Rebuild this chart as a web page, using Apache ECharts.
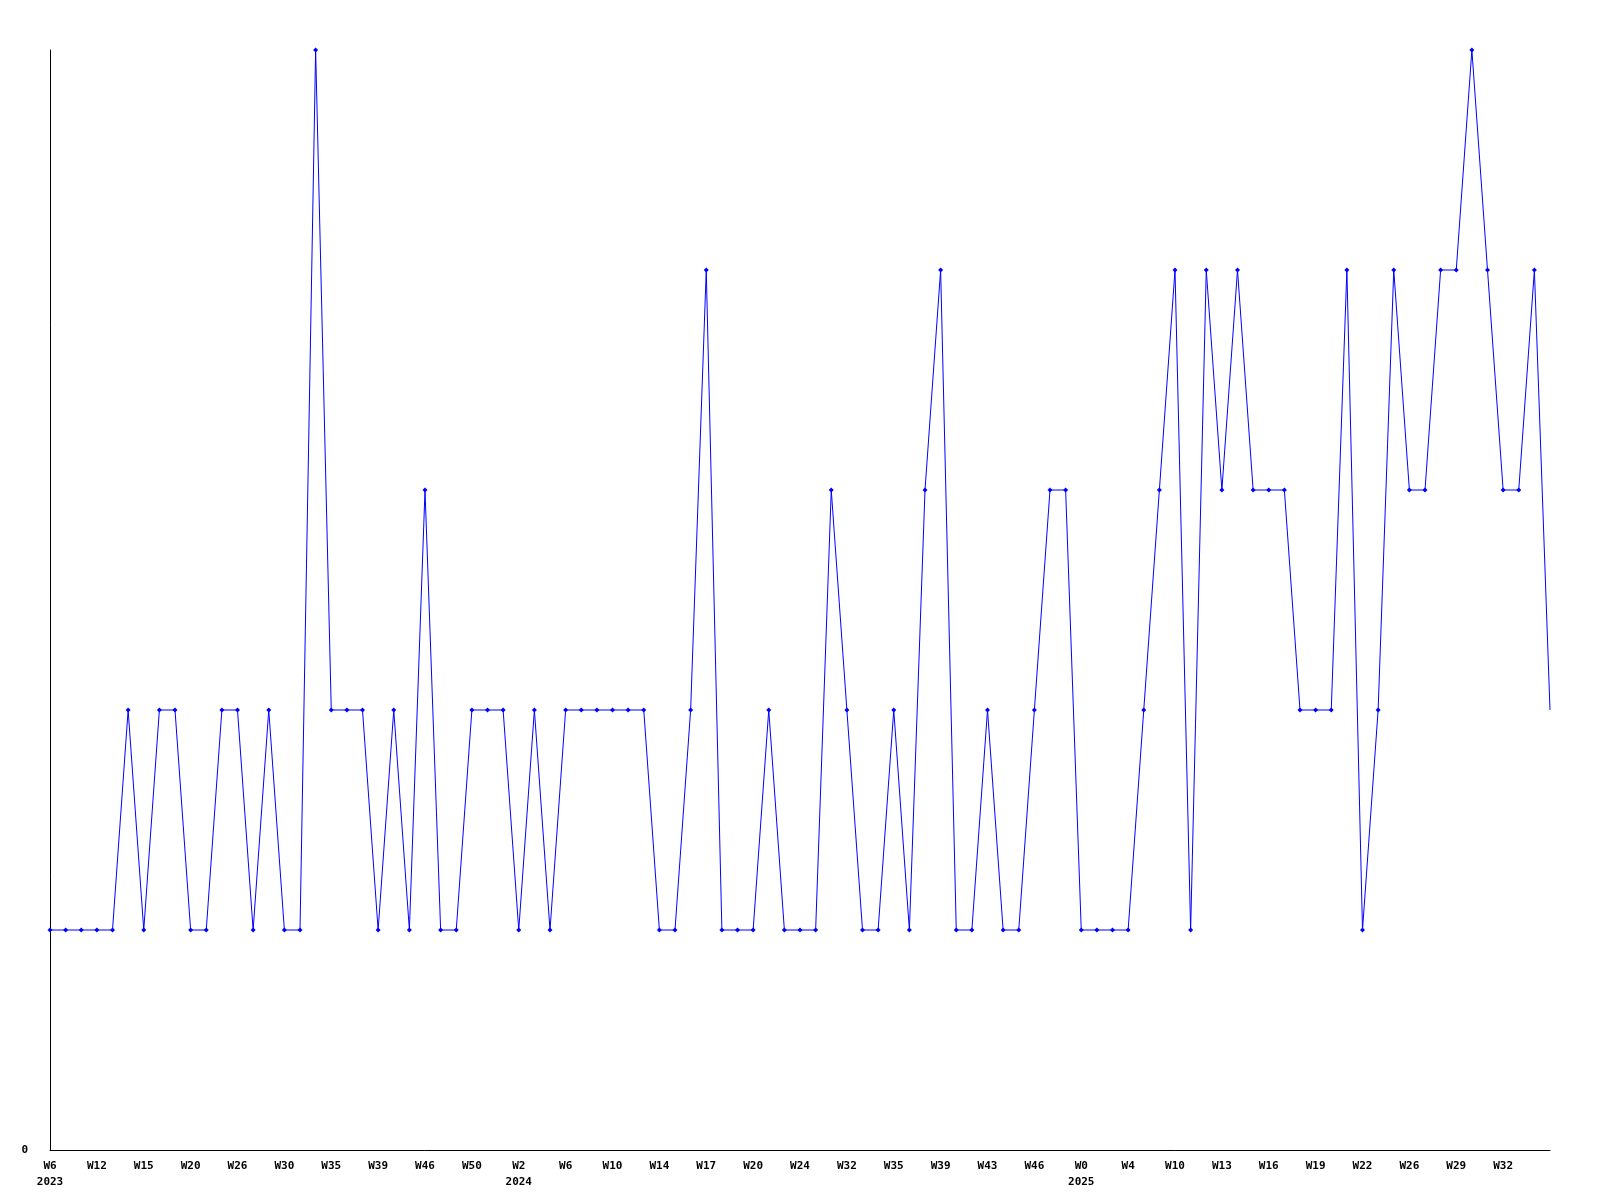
<!DOCTYPE html>
<html>
<head>
<meta charset="utf-8">
<script src="https://cdn.jsdelivr.net/npm/echarts@6/dist/echarts.min.js"></script>
<style>
html,body{margin:0;padding:0;background:#fff;}
#chart{width:1600px;height:1200px;}
</style>
</head>
<body>
<div id="chart"></div>
<script>
// Week categories (every third one is labelled on the axis)
const weeks = [
  'W6','W8','W10','W12','W13','W14','W15','W17','W18','W20',
  'W22','W24','W26','W27','W29','W30','W32','W34','W35','W36',
  'W37','W39','W41','W44','W46','W47','W49','W50','W51','W52',
  'W2','W3','W5','W6','W7','W8','W10','W11','W12','W14',
  'W15','W16','W17','W18','W19','W20','W21','W22','W24','W27',
  'W30','W32','W33','W34','W35','W36','W38','W39','W40','W42',
  'W43','W44','W45','W46','W47','W49','W0','W1','W3','W4',
  'W6','W8','W10','W11','W12','W13','W14','W15','W16','W17',
  'W18','W19','W20','W21','W22','W24','W25','W26','W27','W28',
  'W29','W30','W31','W32','W33','W34','W35'
];
const yearLabels = ['2023','2024','2025'];
const yearStartIndex = [0, 30, 66];

const values = [
  1,1,1,1,1,2,1,2,2,1,
  1,2,2,1,2,1,1,5,2,2,
  2,1,2,1,3,1,1,2,2,2,
  1,2,1,2,2,2,2,2,2,1,
  1,2,4,1,1,1,2,1,1,1,
  3,2,1,1,2,1,3,4,1,1,
  2,1,1,2,3,3,1,1,1,1,
  2,3,4,1,4,3,4,3,3,3,
  2,2,2,4,1,2,4,3,3,4,
  4,5,4,3,3,4,2
];
const yTickLabels = ['0'];

const chart = echarts.init(document.getElementById('chart'), null, {renderer:'canvas'});
const font = '"DejaVu Sans Mono", "Liberation Mono", monospace';
chart.setOption({
  animation: false,
  backgroundColor: '#ffffff',
  grid: {left: 50, right: 50, top: 50, bottom: 50, containLabel: false},
  xAxis: {
    type: 'category',
    data: weeks,
    boundaryGap: false,
    axisLine: {show: true, lineStyle: {color: '#000', width: 1}},
    axisTick: {show: false},
    splitLine: {show: false},
    axisLabel: {
      interval: 2,
      showMaxLabel: false,
      margin: 8,
      color: '#000',
      fontFamily: font,
      fontWeight: 'bold',
      fontSize: 11,
      lineHeight: 16,
      formatter: function (v, i) {
        if (i === weeks.length - 1) return '';
        const k = yearStartIndex.indexOf(i);
        return k >= 0 ? v + '\n' + yearLabels[k] : v;
      }
    }
  },
  yAxis: {
    type: 'value',
    min: 0,
    max: 5,
    interval: 1,
    axisLine: {show: true, lineStyle: {color: '#000', width: 1}},
    axisTick: {show: false},
    splitLine: {show: false},
    axisLabel: {
      margin: 22,
      color: '#000',
      fontFamily: font,
      fontWeight: 'bold',
      fontSize: 11,
      formatter: function (v) { return v === 0 ? yTickLabels[0] : ''; }
    }
  },
  series: [{
    type: 'line',
    data: values.map((v, i) => i === values.length - 1 ? {value: v, symbol: 'none'} : v),
    symbol: 'diamond',
    symbolSize: 5,
    showAllSymbol: true,
    lineStyle: {color: '#0000ff', width: 1},
    itemStyle: {color: '#0000ff', borderWidth: 0}
  }]
});
</script>
</body>
</html>
